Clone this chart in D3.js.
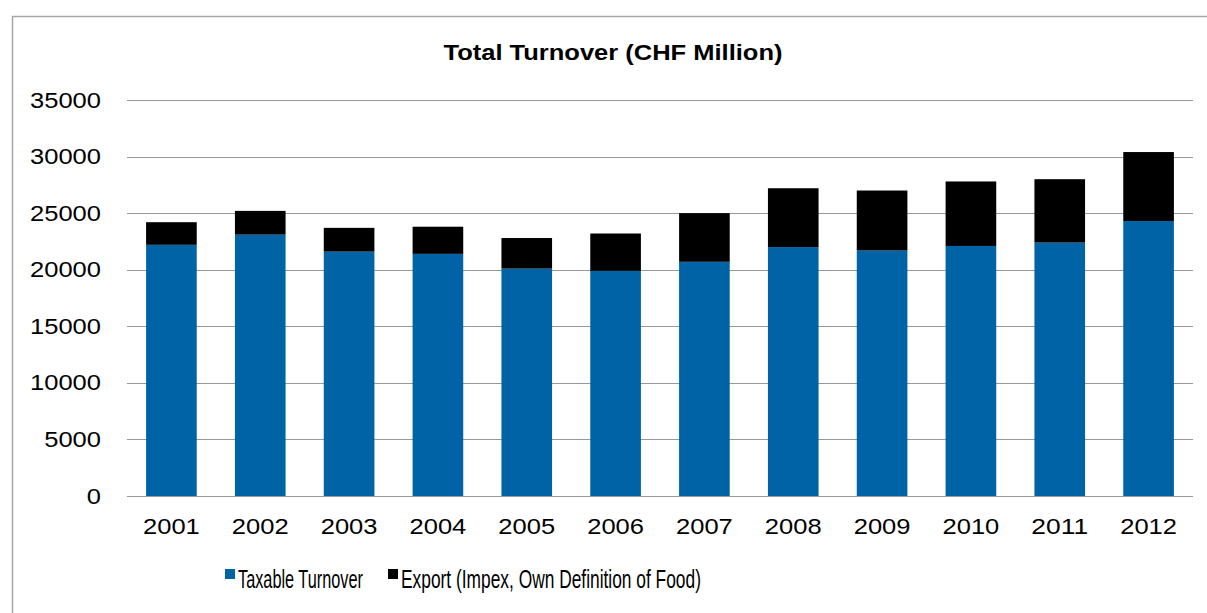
<!DOCTYPE html>
<html>
<head>
<meta charset="utf-8">
<script src="https://cdn.jsdelivr.net/npm/d3@7"></script>
<style>
    html, body { margin: 0; padding: 0; background: #fff; }
    svg { display: block; font-family: "Liberation Sans", Arial, sans-serif; }
</style>
</head>
<body>
<div id="chart"></div>
<script>
"use strict";

const years = ["2001", "2002", "2003", "2004", "2005", "2006", "2007", "2008", "2009", "2010", "2011", "2012"];
const taxableTurnover = [22200, 23100, 21600, 21400, 20100, 19900, 20700, 22000, 21700, 22100, 22400, 24300];
const exportTurnover = [2000, 2100, 2100, 2400, 2700, 3300, 4300, 5200, 5300, 5700, 5600, 6100];
const yTicks = [0, 5000, 10000, 15000, 20000, 25000, 30000, 35000];
const seriesNames = ["Taxable Turnover", "Export (Impex, Own Definition of Food)"];
const seriesColors = ["#0063a6", "#000000"];

const WIDTH = 1207;
const HEIGHT = 613;
const PLOT = { left: 127, right: 1193, top: 100, bottom: 496 };
const DIGIT_WIDTH = 14.2;

render(d3.select("#chart"));

function render(container) {
    const svg = container
        .append("svg")
        .attr("width", WIDTH)
        .attr("height", HEIGHT);

    // Chart area frame (only top and left edges are visible)
    svg.append("path")
        .attr("d", `M12.5,${HEIGHT} V16.5 H${WIDTH}`)
        .attr("fill", "none")
        .attr("stroke", "#a6a6a6")
        .attr("stroke-width", 1.5);

    svg.append("text")
        .attr("x", 613)
        .attr("y", 60)
        .attr("text-anchor", "middle")
        .attr("font-size", 22)
        .attr("font-weight", "bold")
        .attr("textLength", 339)
        .attr("lengthAdjust", "spacingAndGlyphs")
        .text("Total Turnover (CHF Million)");

    const x = d3.scaleBand()
        .domain(years)
        .range([PLOT.left, PLOT.right])
        .paddingInner(0.43)
        .paddingOuter(0.215);

    const y = d3.scaleLinear()
        .domain([0, 35000])
        .range([PLOT.bottom, PLOT.top]);

    renderGrid(svg, y);
    renderBars(svg, x, y);
    renderAxes(svg, x, y);
    renderLegend(svg);
}

function renderGrid(svg, y) {
    svg.append("g")
        .selectAll("line")
        .data(yTicks)
        .join("line")
        .attr("x1", PLOT.left)
        .attr("x2", PLOT.right)
        .attr("y1", d => Math.round(y(d)) + 0.5)
        .attr("y2", d => Math.round(y(d)) + 0.5)
        .attr("stroke", "#999")
        .attr("stroke-width", 1.2);
}

function renderBars(svg, x, y) {
    const rows = years.map((year, i) => ({
        year,
        taxable: taxableTurnover[i],
        export: exportTurnover[i]
    }));

    const stacked = d3.stack().keys(["taxable", "export"])(rows);

    svg.append("g")
        .selectAll("g")
        .data(stacked)
        .join("g")
        .attr("fill", (_, i) => seriesColors[i])
        .selectAll("rect")
        .data(d => d)
        .join("rect")
        .attr("x", d => x(d.data.year))
        .attr("width", x.bandwidth())
        .attr("y", d => y(d[1]))
        .attr("height", d => y(d[0]) - y(d[1]));
}

function renderAxes(svg, x, y) {
    const yAxis = svg.append("g")
        .attr("transform", `translate(${PLOT.left},0)`)
        .call(d3.axisLeft(y).tickValues(yTicks).tickFormat(d3.format("d")).tickSize(0).tickPadding(26));

    const xAxis = svg.append("g")
        .attr("transform", `translate(0,${PLOT.bottom})`)
        .call(d3.axisBottom(x).tickSize(0).tickPadding(22));

    [yAxis, xAxis].forEach(axis => {
        axis.select(".domain").remove();
        axis.selectAll("text")
            .attr("font-family", "'Liberation Sans', Arial, sans-serif")
            .attr("font-size", 22)
            .attr("fill", "#000")
            .attr("textLength", d => String(d).length * DIGIT_WIDTH)
            .attr("lengthAdjust", "spacingAndGlyphs");
    });
}

function renderLegend(svg) {
    const items = [
        { name: seriesNames[0], color: seriesColors[0], x: 225, textWidth: 125 },
        { name: seriesNames[1], color: seriesColors[1], x: 388, textWidth: 300 }
    ];

    const legend = svg.append("g")
        .selectAll("g")
        .data(items)
        .join("g")
        .attr("transform", d => `translate(${d.x},569)`);

    legend.append("rect")
        .attr("width", 10)
        .attr("height", 10)
        .attr("fill", d => d.color);

    // The legend lettering is condensed; squeeze it horizontally to its width
    legend.append("text")
        .attr("font-size", 25)
        .text(d => d.name)
        .each(function (d) {
            const natural = this.getComputedTextLength();
            d3.select(this).attr("transform", `translate(13,19) scale(${d.textWidth / natural},1)`);
        });
}
</script>
</body>
</html>
